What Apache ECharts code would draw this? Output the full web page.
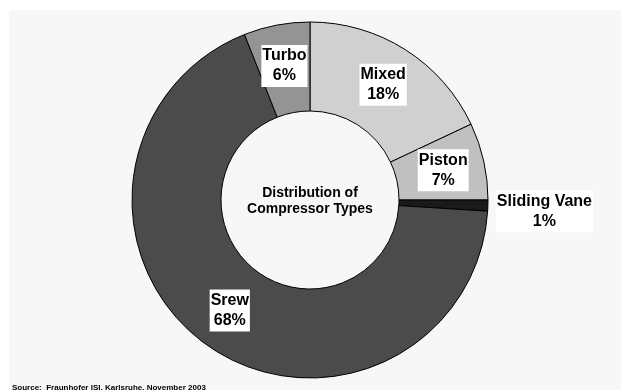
<!DOCTYPE html>
<html>
<head>
<meta charset="utf-8">
<script src="https://cdn.jsdelivr.net/npm/echarts@6/dist/echarts.min.js"></script>
<style>
  html, body { margin: 0; padding: 0; background: #ffffff; }
  #chart { width: 621px; height: 390px; }
</style>
</head>
<body>
<div id="chart"></div>
<script>
// Compressor types, clockwise from 12 o'clock
const categories = ['Mixed', 'Piston', 'Sliding Vane', 'Srew', 'Turbo'];
const shares = [18, 7, 1, 68, 6];
const sliceColors = ['#d0d0d0', '#c0c0c0', '#1a1a1a', '#4b4b4b', '#949494'];
const centerTitle = 'Distribution of\nCompressor Types';
const sourceNote = 'Source:  Fraunhofer ISI, Karlsruhe, November 2003';

const FONT = 'Liberation Sans, Arial, Helvetica, sans-serif';

const data = categories.map((name, i) => {
  const item = {
    name: name,
    value: shares[i],
    itemStyle: { color: sliceColors[i] }
  };
  if (name === 'Sliding Vane') {
    // the thin slice carries its label just outside the ring
    item.label = { offset: [98, 7] };
  }
  return item;
});

const chart = echarts.init(document.getElementById('chart'), null, { renderer: 'canvas' });
chart.setOption({
  backgroundColor: '#ffffff',
  animation: false,
  graphic: [
    {
      type: 'rect',
      z: -10,
      shape: { x: 9, y: 10, width: 612, height: 380 },
      style: { fill: '#f7f7f7' }
    },
    {
      type: 'text',
      z: 10,
      x: 310, y: 201,
      style: {
        text: centerTitle,
        fill: '#000',
        font: 'bold 14px ' + FONT,
        lineHeight: 16,
        align: 'center',
        verticalAlign: 'middle'
      }
    },
    {
      type: 'text',
      z: 10,
      x: 12, y: 384,
      style: {
        text: sourceNote,
        fill: '#000',
        font: 'bold 8px ' + FONT,
        align: 'left',
        verticalAlign: 'top'
      }
    }
  ],
  series: [{
    type: 'pie',
    center: [310, 200],
    radius: [89, 178],
    startAngle: 90,
    clockwise: true,
    avoidLabelOverlap: false,
    itemStyle: { borderColor: '#000', borderWidth: 1 },
    emphasis: { disabled: true },
    label: {
      show: true,
      position: 'inside',
      formatter: '{b}\n{c}%',
      color: '#000',
      fontFamily: FONT,
      fontWeight: 'bold',
      fontSize: 16,
      lineHeight: 20,
      backgroundColor: '#ffffff',
      padding: [1, 1]
    },
    labelLine: { show: false },
    data: data
  }]
});
</script>
</body>
</html>
